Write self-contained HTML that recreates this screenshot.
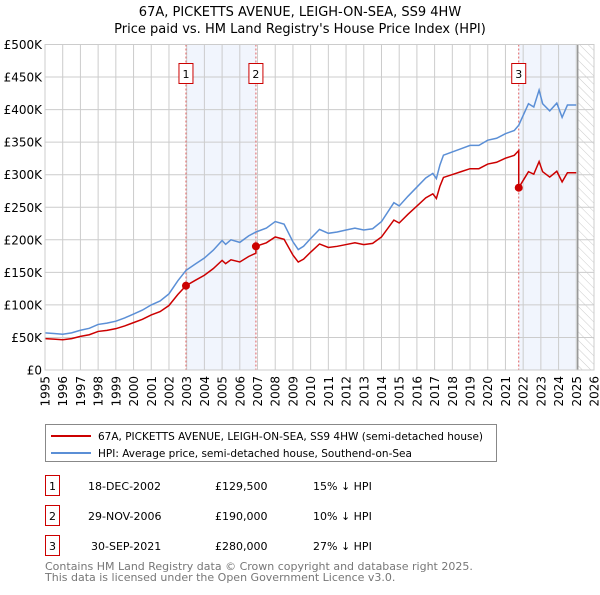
<!DOCTYPE html>
<html><head><meta charset="utf-8"><style>
body{margin:0;background:#fff;font-family:"Liberation Sans","DejaVu Sans",sans-serif;}
svg text{font-family:"DejaVu Sans","Liberation Sans",sans-serif;}
</style></head><body>
<svg id="c" width="600" height="590" xmlns="http://www.w3.org/2000/svg">
<defs><pattern id="hatch" width="6" height="6" patternUnits="userSpaceOnUse" patternTransform="rotate(-45)"><line x1="0" y1="0" x2="0" y2="6" stroke="#ccc" stroke-width="1"/></pattern></defs>
<text x="300" y="16" text-anchor="middle" font-size="13" fill="#000">67A, PICKETTS AVENUE, LEIGH-ON-SEA, SS9 4HW</text>
<text x="300" y="33" text-anchor="middle" font-size="13" fill="#000">Price paid vs. HM Land Registry's House Price Index (HPI)</text>
<g id="plot"></g>
<g>
<rect x="45.5" y="424.5" width="451" height="37" fill="#fff" stroke="#888"/>
<line x1="51" y1="436" x2="91" y2="436" stroke="#cc0000" stroke-width="2"/>
<text x="98" y="440" font-size="10.5">67A, PICKETTS AVENUE, LEIGH-ON-SEA, SS9 4HW (semi-detached house)</text>
<line x1="51" y1="453" x2="91" y2="453" stroke="#5b8fd6" stroke-width="2"/>
<text x="98" y="457" font-size="10.5">HPI: Average price, semi-detached house, Southend-on-Sea</text>
</g>
<g font-size="11">
<rect x="45.5" y="475.5" width="14" height="20" fill="#fff" stroke="#cc0000"/><text x="52.5" y="490" text-anchor="middle">1</text>
<text x="88" y="490">18-DEC-2002</text><text x="215" y="490">£129,500</text><text x="313" y="490">15% ↓ HPI</text>
<rect x="45.5" y="505.5" width="14" height="20" fill="#fff" stroke="#cc0000"/><text x="52.5" y="520" text-anchor="middle">2</text>
<text x="88" y="520">29-NOV-2006</text><text x="215" y="520">£190,000</text><text x="313" y="520">10% ↓ HPI</text>
<rect x="45.5" y="535.5" width="14" height="20" fill="#fff" stroke="#cc0000"/><text x="52.5" y="550" text-anchor="middle">3</text>
<text x="91" y="550">30-SEP-2021</text><text x="215" y="550">£280,000</text><text x="313" y="550">27% ↓ HPI</text>
</g>
<text x="45" y="570" font-size="11" fill="#777">Contains HM Land Registry data © Crown copyright and database right 2025.</text>
<text x="45" y="581" font-size="11" fill="#777">This data is licensed under the Open Government Licence v3.0.</text>
</svg>
<script>
const hpiYears=[1995,1995.5,1996,1996.5,1997,1997.5,1998,1998.5,1999,1999.5,2000,2000.5,2001,2001.5,2002,2002.5,2002.96,2003.5,2004,2004.5,2005,2005.2,2005.5,2006,2006.5,2006.91,2007.5,2008,2008.5,2009,2009.3,2009.6,2010,2010.5,2011,2011.5,2012,2012.5,2013,2013.5,2014,2014.7,2015,2015.5,2016,2016.5,2016.9,2017.1,2017.3,2017.5,2018,2018.5,2019,2019.5,2020,2020.5,2021,2021.5,2021.75,2022,2022.3,2022.6,2022.9,2023.1,2023.5,2023.9,2024.2,2024.5,2025];
const hpiValues=[57,56,55,57,61,64,70,72,75,80,86,92,100,106,117,137,153,163,172,184,199,193,200,196,206,212,218,228,224,197,185,190,202,216,210,212,215,218,215,217,228,257,252,267,281,295,302,294,315,330,335,340,345,345,353,356,363,368,376,391,409,404,430,409,398,410,388,407,407];
const saleYears=[2002.96,2006.91,2021.75];
const salePrices=[129.5,190,280];
const yTicks=[0,50,100,150,200,250,300,350,400,450,500];
const yTickLabels=["£0","£50K","£100K","£150K","£200K","£250K","£300K","£350K","£400K","£450K","£500K"];
const xTicks=[1995,1996,1997,1998,1999,2000,2001,2002,2003,2004,2005,2006,2007,2008,2009,2010,2011,2012,2013,2014,2015,2016,2017,2018,2019,2020,2021,2022,2023,2024,2025,2026];
const X0=45,X1=594,Y0=370,Y1=44.5,dataEnd=2025.08;
const xs=y=>X0+(y-1995)/(2026-1995)*(X1-X0);
const ys=v=>Y0-v/500*(Y0-Y1);
const NS="http://www.w3.org/2000/svg";
const g=document.getElementById('plot');
function mk(t,a){const e=document.createElementNS(NS,t);for(const k in a)e.setAttribute(k,a[k]);g.appendChild(e);return e;}
function hpiAt(t){for(let i=0;i<hpiYears.length-1;i++){if(t<=hpiYears[i+1]){const f=(t-hpiYears[i])/(hpiYears[i+1]-hpiYears[i]);return hpiValues[i]+f*(hpiValues[i+1]-hpiValues[i]);}}return hpiValues[hpiValues.length-1];}
let r=mk('rect',{x:xs(saleYears[0]),y:Y1,width:xs(saleYears[1])-xs(saleYears[0]),height:Y0-Y1,fill:'#f1f5fd'});

r=mk('rect',{x:xs(saleYears[2]),y:Y1,width:xs(dataEnd)-xs(saleYears[2]),height:Y0-Y1,fill:'#f1f5fd'});

r=mk('rect',{x:xs(dataEnd),y:Y1,width:X1-xs(dataEnd),height:Y0-Y1,fill:'url(#hatch)'});

xTicks.forEach(t=>{const l=mk('line',{x1:xs(t),x2:xs(t),y1:Y1,y2:Y0,stroke:'#ccc'});
const tx=mk('text',{x:0,y:0,'font-size':12,'text-anchor':'end',transform:`translate(${xs(t)+4.5},${Y0+6}) rotate(-90)`});tx.textContent=t;});
yTicks.forEach((t,i)=>{const l=mk('line',{x1:X0,x2:X1,y1:ys(t),y2:ys(t),stroke:'#ccc'});
const tx=mk('text',{x:X0-3,y:ys(t)+4.5,'font-size':12,'text-anchor':'end'});tx.textContent=yTickLabels[i];});
let l=mk('line',{x1:xs(dataEnd),x2:xs(dataEnd),y1:Y1,y2:Y0,stroke:'#999','stroke-width':1.5});
saleYears.forEach((s,i)=>{const v=mk('line',{x1:xs(s),x2:xs(s),y1:Y1,y2:Y0,stroke:'#e06060','stroke-dasharray':'2,2'});
const b=mk('rect',{x:xs(s)-7,y:63.5,width:14,height:20,fill:'#fff',stroke:'#cc0000'});
const t=mk('text',{x:xs(s),y:78,'font-size':11,'text-anchor':'middle'});t.textContent=i+1;});
let p=mk('polyline',{points:hpiYears.map((y,i)=>xs(y)+','+ys(hpiValues[i])).join(' '),fill:'none',stroke:'#5b8fd6','stroke-width':1.5});

const pts=[];
for(let i=0;i<hpiYears.length;i++){const t=hpiYears[i];let k=0;for(let j=0;j<saleYears.length;j++)if(t>=saleYears[j])k=j;
const ratio=salePrices[k]/hpiAt(saleYears[k]);pts.push([t,hpiValues[i]*ratio]);
if(i<hpiYears.length-1){for(let j=0;j<saleYears.length;j++){if(saleYears[j]>t&&saleYears[j]<hpiYears[i+1]){pts.push([saleYears[j],hpiAt(saleYears[j])*salePrices[k]/hpiAt(saleYears[k])]);pts.push([saleYears[j],salePrices[j]]);}}}
if(saleYears.includes(t)&&saleYears.indexOf(t)>0){const j=saleYears.indexOf(t);pts.pop();pts.push([t,hpiAt(t)*salePrices[j-1]/hpiAt(saleYears[j-1])]);pts.push([t,salePrices[j]]);}}
p=mk('polyline',{points:pts.map(q=>xs(q[0])+','+ys(q[1])).join(' '),fill:'none',stroke:'#cc0000','stroke-width':1.5});

saleYears.forEach((s,i)=>{const c=mk('circle',{cx:xs(s),cy:ys(salePrices[i]),r:4,fill:'#cc0000'});});
const fr=mk('rect',{x:X0,y:Y1,width:X1-X0,height:Y0-Y1,fill:'none',stroke:'#ccc'});
</script>
</body></html>
